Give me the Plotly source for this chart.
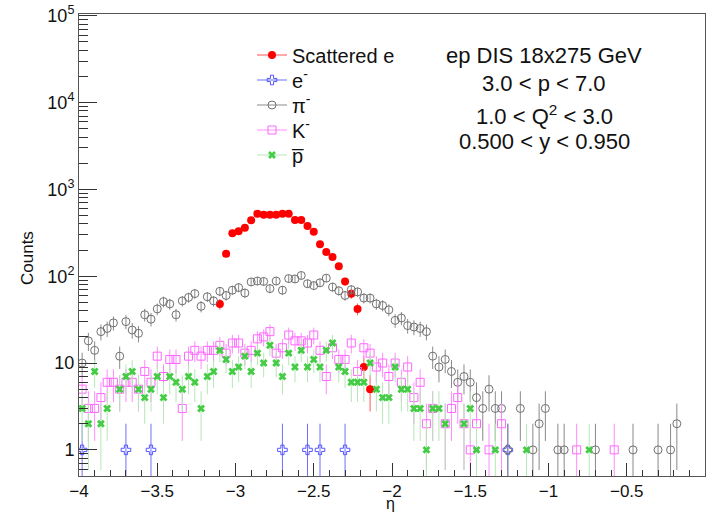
import numpy as np
import plotly.graph_objects as go

# ---------------- data (100 bins in eta from -4 to 0) ----------------
eta_min, eta_max, n_bins = -4.0, 0.0, 100
bin_centers = [eta_min + (i + 0.5) * (eta_max - eta_min) / n_bins for i in range(n_bins)]

def expand(d):
    return [d.get(i, 0) for i in range(n_bins)]

scattered_e = expand({22: 48, 23: 181, 24: 312, 25: 330, 26: 362, 27: 440, 28: 525, 29: 510,
                      30: 510, 31: 510, 32: 525, 33: 525, 34: 444, 35: 444, 36: 378, 37: 325,
                      38: 233, 39: 190, 40: 166, 41: 130, 42: 87, 43: 63, 44: 42, 45: 9, 46: 5})

electron = expand({0: 1, 7: 1, 11: 1, 32: 1, 36: 1, 38: 1, 42: 1, 68: 1})

pion = [10, 18, 14, 23, 25, 29, 12, 30, 24, 22,
        36, 32, 42, 51, 48, 36, 52, 57, 63, 45,
        58, 52, 67, 60, 69, 74, 64, 86, 88, 87,
        72, 88, 69, 94, 93, 102, 82, 78, 84, 95,
        75, 68, 60, 70, 66, 56, 56, 48, 46, 41,
        31, 33, 27, 26, 25, 23, 12, 9, 11, 8,
        6, 7, 6, 4, 3, 5, 3, 3, 1, 0,
        3, 0, 1, 2, 3, 0, 1, 1, 0, 0,
        0, 0, 1, 0, 0, 0, 0, 0, 1, 0,
        0, 0, 1, 0, 1, 2, 0, 0, 0, 0]

kaon = [5, 3, 3, 4, 6, 6, 5, 6, 6, 5,
        8, 6, 12, 7, 11, 11, 3, 12, 14, 12,
        14, 14, 16, 13, 17, 17, 13, 14, 19, 20,
        23, 13, 15, 21, 18, 18, 17, 21, 14, 7,
        15, 11, 11, 17, 8, 15, 13, 9, 10, 7,
        10, 6, 9, 4, 6, 2, 3, 0, 2, 3,
        4, 2, 1, 2, 0, 1, 0, 2, 0, 0,
        0, 0, 0, 0, 0, 0, 0, 0, 0, 1,
        0, 0, 0, 0, 0, 1, 0, 0, 0, 0,
        0, 0, 0, 0, 0, 0, 0, 0, 0, 0]

antiproton = [3, 2, 8, 2, 3, 0, 5, 7, 8, 5,
              4, 5, 7, 4, 7, 6, 5, 7, 6, 3,
              7, 8, 14, 11, 8, 9, 12, 8, 13, 10,
              16, 10, 7, 13, 9, 14, 9, 11, 9, 14,
              17, 9, 8, 6, 6, 6, 10, 5, 4, 4,
              9, 5, 5, 3, 3, 1, 3, 3, 2, 0,
              0, 2, 3, 1, 0, 0, 1, 0, 0, 0,
              0, 1, 0, 0, 0, 0, 0, 0, 0, 0,
              0, 1, 0, 0, 0, 0, 0, 0, 0, 0,
              0, 0, 0, 0, 0, 0, 0, 0, 0, 0]

series_names = ["Scattered e", "e<sup>-</sup>", "π<sup>-</sup>", "K<sup>-</sup>", "p\u0305"]

x_tick_vals = [-4, -3.5, -3, -2.5, -2, -1.5, -1, -0.5, 0]
x_tick_text = ["\u22124", "\u22123.5", "\u22123", "\u22122.5", "\u22122", "\u22121.5", "\u22121", "\u22120.5", "0"]
y_tick_vals = [1, 10, 100, 1000, 10000, 100000]
y_tick_text = ["1", "10", "10<sup>2</sup>", "10<sup>3</sup>", "10<sup>4</sup>", "10<sup>5</sup>"]

info_lines = ["ep DIS 18x275 GeV", "3.0 < p < 7.0", "1.0 < Q<sup>2</sup> < 3.0", "0.500 < y < 0.950"]

# ---------------- styles ----------------
styles = [
    dict(symbol="circle", size=8, color="#ff0000", line=dict(width=0), err="#ff5555"),
    dict(symbol="cross-open", size=8, color="#5555ff", line=dict(width=1, color="#5555ff"), err="#6f6fff"),
    dict(symbol="circle-open", size=8, color="#707070", line=dict(width=1, color="#707070"), err="#8a8a8a"),
    dict(symbol="square-open", size=8, color="#ff66ff", line=dict(width=1, color="#ff66ff"), err="#ff8cff"),
    dict(symbol="x", size=7, color="#44cc44", line=dict(width=0), err="#b5e6b5"),
]

PX_L, PX_W, PX_T, PX_H = 79, 626, 14, 462

def px_x(p):
    return (p - PX_L) / PX_W

def px_y(p):
    return 1 - (p - PX_T) / PX_H

fig = go.Figure()
all_series = [scattered_e, electron, pion, kaon, antiproton]

for name, counts, st in zip(series_names, all_series, styles):
    xs = [x for x, c in zip(bin_centers, counts) if c > 0]
    ys = [c for c in counts if c > 0]
    up = [np.sqrt(c) for c in ys]
    lo = [c - max(c - np.sqrt(c), 0.3) for c in ys]
    fig.add_trace(go.Scatter(
        x=xs, y=ys, mode="markers", showlegend=False, name=name,
        marker=dict(symbol=st["symbol"], size=st["size"], color=st["color"], line=st["line"]),
        error_y=dict(type="data", array=up, arrayminus=lo, symmetric=False,
                     color=st["err"], thickness=1, width=0),
        cliponaxis=True,
    ))

# legend-only entries (line + marker like ROOT "lep"), one legend per row for exact spacing
legend_rows = [55, 80, 105, 130, 155]
legend_layout = {}
for i, (name, st, row) in enumerate(zip(series_names, styles, legend_rows)):
    key = "legend" if i == 0 else f"legend{i + 1}"
    fig.add_trace(go.Scatter(
        x=[None], y=[None], mode="lines+markers", name=name, legend=key,
        line=dict(color=st["err"], width=1),
        marker=dict(symbol=st["symbol"], size=st["size"], color=st["color"], line=st["line"]),
    ))
    legend_layout[key] = dict(x=px_x(252), y=px_y(row), xanchor="left", yanchor="middle",
                              font=dict(size=20, family="Liberation Sans", color="#111"),
                              bgcolor="rgba(255,255,255,0)")

annotations = []
info_y = [55, 84, 115, 142]
for txt, yp in zip(info_lines, info_y):
    annotations.append(dict(text=txt, xref="paper", yref="paper",
                            x=px_x(544), y=px_y(yp),
                            xanchor="center", yanchor="middle", showarrow=False,
                            font=dict(size=22, color="#111", family="Liberation Sans")))
annotations.append(dict(text="Counts", xref="paper", yref="paper", x=px_x(27),
                        y=px_y(258), textangle=-90, showarrow=False,
                        xanchor="center", yanchor="middle",
                        font=dict(size=17, color="#111", family="Liberation Sans")))
annotations.append(dict(text="η", xref="paper", yref="paper", x=px_x(390),
                        y=px_y(514), showarrow=False,
                        xanchor="center", yanchor="bottom",
                        font=dict(size=16, color="#111", family="Liberation Sans")))

minor_y = [m * 10 ** e for e in range(-1, 5) for m in range(2, 10)]

fig.update_layout(
    width=706, height=515,
    margin=dict(l=79, r=1, t=14, b=39),
    paper_bgcolor="white", plot_bgcolor="white",
    font=dict(family="Liberation Sans", color="#111"),
    annotations=annotations,
    xaxis=dict(range=[-4, 0], showgrid=False, zeroline=False, showline=True,
               linecolor="#555", linewidth=1, mirror=True,
               ticks="inside", ticklen=13, tickcolor="#333", tickwidth=1,
               tickmode="array", tickvals=x_tick_vals, ticktext=x_tick_text,
               tickfont=dict(size=17, family="Liberation Sans", color="#111"),
               minor=dict(ticks="inside", ticklen=6, dtick=0.1, tick0=0, tickcolor="#333", showgrid=False)),
    yaxis=dict(type="log", range=[np.log10(0.5), 5.02], showgrid=False, zeroline=False,
               showline=True, linecolor="#555", linewidth=1, mirror=True,
               ticks="inside", ticklen=18, tickcolor="#333", tickwidth=1,
               tickmode="array", tickvals=y_tick_vals, ticktext=y_tick_text,
               tickfont=dict(size=18, family="Liberation Sans", color="#111"),
               minor=dict(ticks="inside", ticklen=9, tickmode="array", tickvals=minor_y,
                          tickcolor="#333", showgrid=False)),
    **legend_layout,
)

fig.write_html("out.html")
